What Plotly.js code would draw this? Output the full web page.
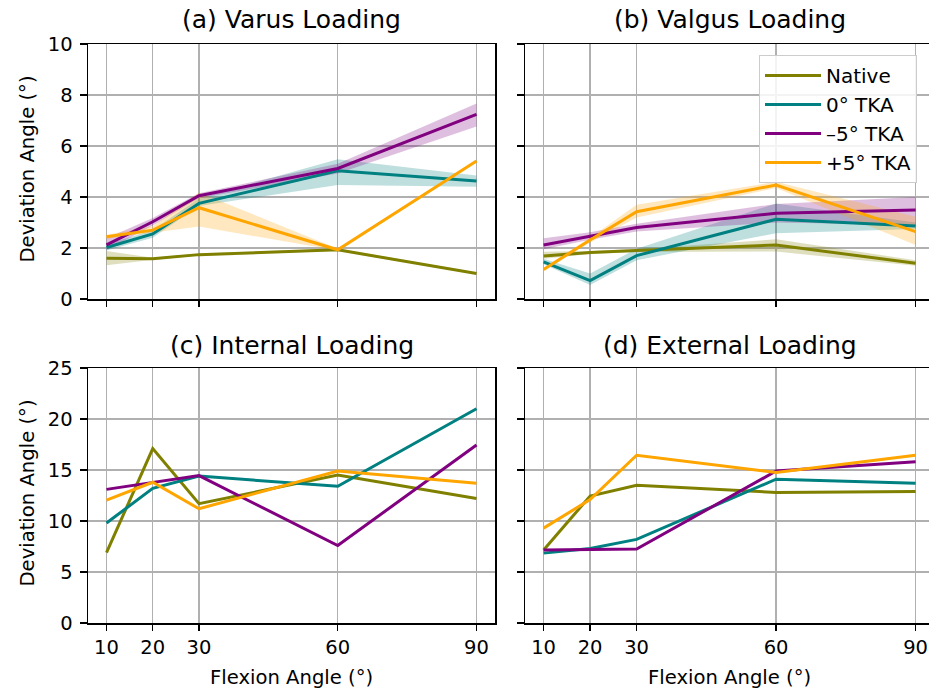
<!DOCTYPE html>
<html>
<head>
<meta charset="utf-8">
<script src="https://cdn.plot.ly/plotly-3.0.1.min.js"></script>
<style>html,body{margin:0;padding:0;background:#fff;}#chart{width:929px;height:688px;}</style>
</head>
<body>
<div id="chart"></div>
<script>
// ---- data ----
const flexion = [10, 20, 30, 60, 90];
const seriesNames = ["Native", "0° TKA", "–5° TKA", "+5° TKA"];
const seriesColors = ["#808000", "#008080", "#800080", "#FFA500"];
const bandColors = ["rgba(128,128,0,0.25)", "rgba(0,128,128,0.25)", "rgba(128,0,128,0.25)", "rgba(255,165,0,0.25)"];

// (a) Varus loading: mean, lower, upper
const varusNative   = [1.60, 1.58, 1.74, 1.93, 1.00];
const varusNativeLo = [1.32, 1.54, 1.70, 1.88, 0.96];
const varusNativeHi = [1.88, 1.62, 1.78, 1.98, 1.04];
const varus0        = [2.02, 2.55, 3.75, 5.03, 4.63];
const varus0Lo      = [1.90, 2.40, 3.65, 4.47, 4.40];
const varus0Hi      = [2.15, 2.70, 3.95, 5.48, 4.84];
const varusM5       = [2.12, 3.03, 4.05, 5.12, 7.24];
const varusM5Lo     = [1.92, 2.88, 3.95, 4.92, 6.76];
const varusM5Hi     = [2.38, 3.18, 4.15, 5.30, 7.67];
const varusP5       = [2.44, 2.70, 3.58, 1.93, 5.41];
const varusP5Lo     = [2.36, 2.60, 2.84, 1.90, 5.38];
const varusP5Hi     = [2.52, 2.85, 4.18, 1.97, 5.44];

// (b) Valgus loading: mean, lower, upper
const valgusNative   = [1.69, 1.82, 1.90, 2.12, 1.40];
const valgusNativeLo = [1.58, 1.76, 1.84, 1.86, 1.30];
const valgusNativeHi = [1.85, 1.88, 1.96, 2.34, 1.52];
const valgus0        = [1.46, 0.72, 1.70, 3.13, 2.86];
const valgus0Lo      = [1.36, 0.55, 1.52, 2.58, 2.75];
const valgus0Hi      = [1.58, 1.00, 1.97, 3.75, 3.00];
const valgusM5       = [2.12, 2.47, 2.80, 3.36, 3.49];
const valgusM5Lo     = [1.95, 2.32, 2.65, 3.00, 2.90];
const valgusM5Hi     = [2.38, 2.62, 2.95, 3.73, 4.00];
const valgusP5       = [1.16, 2.31, 3.42, 4.47, 2.64];
const valgusP5Lo     = [1.10, 2.22, 3.20, 4.35, 2.12];
const valgusP5Hi     = [1.22, 2.40, 3.70, 4.60, 3.23];

// (c) Internal loading
const internalNative = [6.9, 17.1, 11.7, 14.5, 12.2];
const internal0      = [9.8, 13.2, 14.4, 13.4, 21.0];
const internalM5     = [13.1, 13.75, 14.45, 7.6, 17.45];
const internalP5     = [12.05, 13.8, 11.2, 14.9, 13.7];

// (d) External loading
const externalNative = [7.15, 12.45, 13.5, 12.8, 12.9];
const external0      = [6.85, 7.3, 8.2, 14.1, 13.7];
const externalM5     = [7.15, 7.2, 7.25, 14.9, 15.8];
const externalP5     = [9.3, 12.1, 16.45, 14.75, 16.45];

const panelTitles = ["(a) Varus Loading", "(b) Valgus Loading", "(c) Internal Loading", "(d) External Loading"];
const xTicks = [10, 20, 30, 60, 90];
const yTicksTop = [0, 2, 4, 6, 8, 10];
const yTicksBottom = [0, 5, 10, 15, 20, 25];
const xAxisTitle = "Flexion Angle (°)";
const yAxisTitle = "Deviation Angle (°)";

// ---- build ----
const W = 929, H = 688;
const panels = [
  {xa: "x",  ya: "y",  means: [varusNative, varus0, varusM5, varusP5],
   lo: [varusNativeLo, varus0Lo, varusM5Lo, varusP5Lo], hi: [varusNativeHi, varus0Hi, varusM5Hi, varusP5Hi]},
  {xa: "x2", ya: "y2", means: [valgusNative, valgus0, valgusM5, valgusP5],
   lo: [valgusNativeLo, valgus0Lo, valgusM5Lo, valgusP5Lo], hi: [valgusNativeHi, valgus0Hi, valgusM5Hi, valgusP5Hi]},
  {xa: "x3", ya: "y3", means: [internalNative, internal0, internalM5, internalP5]},
  {xa: "x4", ya: "y4", means: [externalNative, external0, externalM5, externalP5]}
];

const traces = [];
panels.forEach((p, pi) => {
  for (let s = 0; s < 4; s++) {
    if (p.lo) {
      traces.push({x: flexion, y: p.lo[s], xaxis: p.xa, yaxis: p.ya, mode: "lines",
        line: {width: 0, color: bandColors[s]}, showlegend: false, hoverinfo: "skip"});
      traces.push({x: flexion, y: p.hi[s], xaxis: p.xa, yaxis: p.ya, mode: "lines", fill: "tonexty",
        fillcolor: bandColors[s], line: {width: 0, color: bandColors[s]}, showlegend: false, hoverinfo: "skip"});
    }
  }
  for (let s = 0; s < 4; s++) {
    traces.push({x: flexion, y: p.means[s], xaxis: p.xa, yaxis: p.ya, mode: "lines",
      name: seriesNames[s], line: {color: seriesColors[s], width: 3},
      showlegend: pi === 1, legendrank: s + 1});
  }
});

const font = {family: "DejaVu Sans, sans-serif", color: "#000"};
const gridc = "#b0b0b0";
function xax(d, range, anchor, showLabels) {
  return {domain: d, range: range, anchor: anchor, tickvals: xTicks, ticktext: xTicks.map(String),
    showticklabels: showLabels, ticks: "outside", ticklen: 6, tickwidth: 1.3, tickcolor: "#000",
    showgrid: true, gridcolor: gridc, gridwidth: 1.2, zeroline: false,
    showline: true, linecolor: "#000", linewidth: 1.5, mirror: true,
    tickfont: Object.assign({size: 19.5}, font)};
}
function yax(d, range, anchor, ticks, showLabels, mirror) {
  return {domain: d, range: range, anchor: anchor, tickvals: ticks, ticktext: ticks.map(String),
    showticklabels: showLabels, ticks: "outside", ticklen: 7, tickwidth: 1.3, tickcolor: "#000",
    ticklabelstandoff: 3,
    showgrid: true, gridcolor: gridc, gridwidth: 1.2, zeroline: false,
    showline: true, linecolor: "#000", linewidth: 1.5, mirror: mirror,
    tickfont: Object.assign({size: 19.5}, font)};
}
const xdL = [88 / W, 495 / W];
const xdR = [525 / W, 1];
const ydT = [1 - 299 / H, 1 - 44 / H];
const ydB = [1 - 623 / H, 1 - 368 / H];
const rangeL = [6, 94];
const rangeR = [6, 6 + (W - 525) / 4.65];

const titleY = [19, 19, 345, 345];
const titleX = [(88 + 495) / 2, (525 + 934) / 2, (88 + 495) / 2, (525 + 934) / 2];
const annotations = panelTitles.map((t, i) => ({
  text: t, xref: "paper", yref: "paper", x: titleX[i] / W, y: 1 - titleY[i] / H,
  xanchor: "center", yanchor: "middle", showarrow: false, font: Object.assign({size: 25}, font)
}));
// axis titles
[titleX[2], titleX[3]].forEach(cx => annotations.push({
  text: xAxisTitle, xref: "paper", yref: "paper", x: cx / W, y: 1 - 677 / H,
  xanchor: "center", yanchor: "middle", showarrow: false, font: Object.assign({size: 19.6}, font)
}));
[(44 + 299) / 2 - 2, (368 + 623) / 2 - 2].forEach(cy => annotations.push({
  text: yAxisTitle, xref: "paper", yref: "paper", x: 27 / W, y: 1 - cy / H, textangle: -90,
  xanchor: "center", yanchor: "middle", showarrow: false, font: Object.assign({size: 19.6}, font)
}));

const layout = {
  width: W, height: H, margin: {l: 0, r: 0, t: 0, b: 0},
  paper_bgcolor: "#fff", plot_bgcolor: "#fff", font: font,
  xaxis: xax(xdL, rangeL, "y", false), yaxis: yax(ydT, [0, 10], "x", yTicksTop, true, true),
  xaxis2: xax(xdR, rangeR, "y2", false), yaxis2: yax(ydT, [0, 10], "x2", yTicksTop, false, false),
  xaxis3: xax(xdL, rangeL, "y3", true), yaxis3: yax(ydB, [0, 25], "x3", yTicksBottom, true, true),
  xaxis4: xax(xdR, rangeR, "y4", true), yaxis4: yax(ydB, [0, 25], "x4", yTicksBottom, false, false),
  annotations: annotations,
  showlegend: true,
  legend: {x: 759 / W, y: 1 - 55 / H, xanchor: "left", yanchor: "top",
    bgcolor: "rgba(255,255,255,0.85)", bordercolor: "#cccccc", borderwidth: 1, itemwidth: 56,
    font: Object.assign({size: 20}, font), traceorder: "normal"}
};

Plotly.newPlot("chart", traces, layout, {displayModeBar: false, staticPlot: true});
</script>
</body>
</html>
